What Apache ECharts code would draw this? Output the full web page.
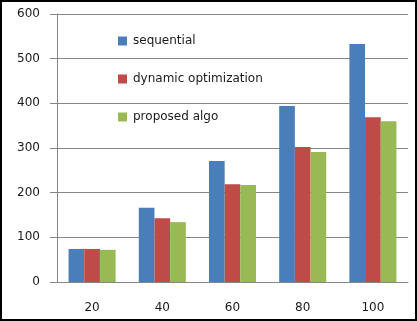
<!DOCTYPE html>
<html>
<head>
<meta charset="utf-8">
<script src="https://cdn.jsdelivr.net/npm/echarts@6/dist/echarts.min.js"></script>
<style>
  html, body { margin: 0; padding: 0; background: #fff; }
  #wrap { position: relative; width: 417px; height: 321px; }
  #chart { width: 417px; height: 321px; }
  #frame { position: absolute; left: 0; top: 0; width: 417px; height: 321px;
           box-sizing: border-box; border: 2px solid #000; pointer-events: none; }
</style>
</head>
<body>
<div id="wrap">
  <div id="chart"></div>
  <div id="frame"></div>
</div>
<script>
const categories = ['20', '40', '60', '80', '100'];
const sequential = [74, 166, 271, 394, 533];
const dynamicOpt = [74, 143, 219, 302, 369];
const proposedAlgo = [72, 134, 217, 291, 360];

const chart = echarts.init(document.getElementById('chart'));
const axisGrey = '#868686';
const font = 'DejaVu Sans';

chart.setOption({
  animation: false,
  textStyle: { fontFamily: font },
  grid: { left: 57, right: 9, top: 14, bottom: 39 },
  legend: {
    orient: 'vertical',
    left: 113,
    top: 30,
    itemWidth: 9,
    itemHeight: 9,
    itemGap: 26,
    icon: 'rect',
    textStyle: { fontFamily: font, fontSize: 12, color: '#1a1a1a', padding: [0, 0, 0, 1] },
    data: ['sequential', 'dynamic optimization', 'proposed algo']
  },
  xAxis: {
    type: 'category',
    data: categories,
    axisLine: { lineStyle: { color: axisGrey } },
    axisTick: { length: 5, lineStyle: { color: axisGrey } },
    axisLabel: { fontFamily: font, fontSize: 12, color: '#1a1a1a', margin: 20 }
  },
  yAxis: {
    type: 'value',
    min: 0,
    max: 600,
    interval: 100,
    axisLine: { show: true, lineStyle: { color: axisGrey } },
    axisTick: { show: true, length: 7, lineStyle: { color: axisGrey } },
    splitLine: { lineStyle: { color: axisGrey } },
    axisLabel: { fontFamily: font, fontSize: 12, color: '#1a1a1a', margin: 17 }
  },
  series: [
    { name: 'sequential', type: 'bar', data: sequential, barGap: '0%', barCategoryGap: '33%',
      itemStyle: { color: '#4a7ebb' } },
    { name: 'dynamic optimization', type: 'bar', data: dynamicOpt,
      itemStyle: { color: '#be4b48' } },
    { name: 'proposed algo', type: 'bar', data: proposedAlgo,
      itemStyle: { color: '#98b954' } }
  ]
});
</script>
</body>
</html>
